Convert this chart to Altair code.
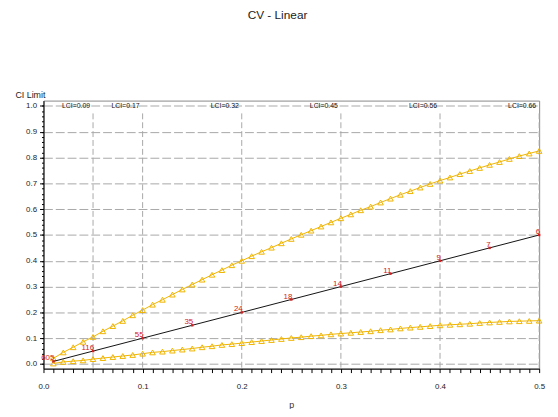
import altair as alt
import pandas as pd

# ---- data ----
p_grid = [0.01, 0.02, 0.03, 0.04, 0.05, 0.06, 0.07, 0.08, 0.09, 0.10,
          0.11, 0.12, 0.13, 0.14, 0.15, 0.16, 0.17, 0.18, 0.19, 0.20,
          0.21, 0.22, 0.23, 0.24, 0.25, 0.26, 0.27, 0.28, 0.29, 0.30,
          0.31, 0.32, 0.33, 0.34, 0.35, 0.36, 0.37, 0.38, 0.39, 0.40,
          0.41, 0.42, 0.43, 0.44, 0.45, 0.46, 0.47, 0.48, 0.49, 0.50]
upper = [0.022, 0.045, 0.065, 0.086, 0.105, 0.127, 0.147, 0.167, 0.189, 0.209,
         0.230, 0.249, 0.269, 0.289, 0.308, 0.327, 0.346, 0.364, 0.383, 0.400,
         0.418, 0.435, 0.451, 0.468, 0.485, 0.501, 0.517, 0.533, 0.549, 0.565,
         0.580, 0.596, 0.610, 0.626, 0.641, 0.656, 0.670, 0.684, 0.698, 0.711,
         0.723, 0.736, 0.748, 0.760, 0.772, 0.783, 0.795, 0.806, 0.816, 0.826]
lower = [0.002, 0.008, 0.011, 0.014, 0.019, 0.023, 0.027, 0.031, 0.035, 0.040,
         0.045, 0.048, 0.052, 0.056, 0.060, 0.065, 0.069, 0.074, 0.077, 0.081,
         0.085, 0.089, 0.093, 0.097, 0.101, 0.104, 0.108, 0.111, 0.115, 0.118,
         0.121, 0.124, 0.127, 0.131, 0.134, 0.138, 0.141, 0.144, 0.147, 0.150,
         0.152, 0.154, 0.156, 0.159, 0.161, 0.163, 0.165, 0.166, 0.167, 0.168]

n_p = [0.01, 0.05, 0.10, 0.15, 0.20, 0.25, 0.30, 0.35, 0.40, 0.45, 0.50]
n_val = [0.01, 0.05, 0.10, 0.15, 0.20, 0.25, 0.30, 0.35, 0.40, 0.45, 0.50]
n_label = ["605", "116", "55", "35", "24", "18", "14", "11", "9", "7", "6"]

lci_p = [0.05, 0.10, 0.20, 0.30, 0.40, 0.50]
lci_label = ["LCI=0.09", "LCI=0.17", "LCI=0.32", "LCI=0.45", "LCI=0.56", "LCI=0.66"]

y_major = [0.0, 0.1, 0.2, 0.3, 0.4, 0.5, 0.6, 0.7, 0.8, 0.9, 1.0]
y_minor = [round(i * 0.02, 2) for i in range(51)]
x_ticks = [round(i * 0.01, 2) for i in range(51)]

# ---- styling ----
FONT = "Liberation Sans"
ORANGE = "#f0b400"
RED = "#d42020"
GRID = "#a8a8a8"
W, H = 503, 272

ci_df = pd.DataFrame({
    "p": p_grid * 2,
    "v": upper + lower,
    "series": ["Upper"] * len(p_grid) + ["Lower"] * len(p_grid),
})
n_df = pd.DataFrame({"p": n_p, "v": n_val, "n": n_label})
lci_df = pd.DataFrame({"p": lci_p, "label": lci_label})

xscale = alt.Scale(domain=[0, 0.5], nice=False, zero=False)
yscale = alt.Scale(domain=[-0.018, 1.021], nice=False, zero=False)

x_enc = alt.X("p:Q", scale=xscale, axis=alt.Axis(
    values=x_ticks, title="p", titleFontWeight="normal", titleFontSize=9,
    titleFont=FONT, titleColor="#333", titlePadding=10,
    labelExpr="abs(datum.value*10 - round(datum.value*10)) < 0.001 ? format(datum.value, '.1f') : ''",
    labelFontSize=8, labelFont=FONT, labelColor="#222", labelFlush=False,
    labelPadding=10, tickSize=4, tickColor="#000", domainColor="#000",
    grid=False))

y_main = alt.Y("v:Q", scale=yscale, axis=alt.Axis(
    values=y_major, format=".1f", title="CI Limit", titleAngle=0, orient="left",
    titleAlign="left", titleBaseline="alphabetic", titleX=-29, titleY=-3,
    titleFontWeight="normal", titleFontSize=9, titleFont=FONT, titleColor="#222",
    labelFontSize=8, labelFont=FONT, labelColor="#222", labelPadding=3,
    tickSize=4, tickColor="#000", domainColor="#000",
    grid=True, gridColor=GRID, gridDash=[9, 3], gridWidth=1))
y_plain = alt.Y("v:Q", scale=yscale, axis=None)

# minor y ticks via a second left axis
minor = alt.Chart(n_df).mark_point(opacity=0).encode(
    x=x_enc,
    y=alt.Y("v:Q", scale=yscale, axis=alt.Axis(
        values=y_minor, orient="left", labels=False, title=None, tickSize=2,
        tickColor="#000", domain=False, grid=False)),
)

vrules = alt.Chart(lci_df).mark_rule(color=GRID, strokeDash=[6, 3], strokeWidth=1).encode(
    x=x_enc, y=alt.value(13), y2=alt.value(H),
)

lci_text = alt.Chart(lci_df).mark_text(
    align="right", baseline="middle", dx=-3, fontSize=7, font=FONT, color="#111"
).encode(x=x_enc, y=alt.value(6), text="label:N")

ci_lines = alt.Chart(ci_df).mark_line(color=ORANGE, strokeWidth=1).encode(
    x=x_enc, y=y_main, detail="series:N")
ci_points = alt.Chart(ci_df).mark_point(
    shape="triangle-up", filled=False, color=ORANGE, size=32, strokeWidth=1, opacity=1
).encode(x=x_enc, y=y_plain)

n_line = alt.Chart(n_df).mark_line(color="#111", strokeWidth=1).encode(x=x_enc, y=y_plain)
n_points = alt.Chart(n_df).mark_square(color=RED, size=6, opacity=1).encode(x=x_enc, y=y_plain)
n_text = alt.Chart(n_df).mark_text(
    align="right", baseline="middle", dx=1, dy=-3, fontSize=8, font=FONT, color=RED
).encode(x=x_enc, y=y_plain, text="n:N")

chart = alt.layer(
    ci_lines, minor, vrules, lci_text, ci_points, n_line, n_points, n_text
).resolve_axis(y="independent").properties(
    width=W, height=H,
    title=alt.TitleParams("CV - Linear", fontSize=12, font=FONT, fontWeight="normal",
                          color="#222", anchor="middle", dx=-14, offset=70),
    autosize=alt.AutoSizeParams(type="none"),
    padding={"left": 36, "top": 91, "right": 11, "bottom": 38},
    background="white",
).configure_view(stroke="#888", strokeWidth=1)

chart.save("out.html", embed_options={"renderer": "svg", "actions": False})
